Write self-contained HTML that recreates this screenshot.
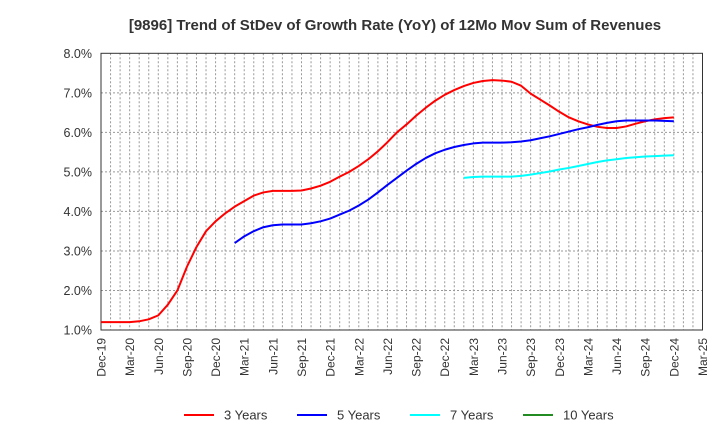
<!DOCTYPE html>
<html><head><meta charset="utf-8"><style>
body{margin:0;background:#fff;}
svg{display:block;font-family:"Liberation Sans",sans-serif;}
</style></head><body>
<svg id="chart" width="720" height="440" viewBox="0 0 720 440" xmlns="http://www.w3.org/2000/svg">
<rect width="720" height="440" fill="#fff"/>
<text x="395" y="30" text-anchor="middle" font-size="15" font-weight="bold" fill="#333">[9896]  Trend of StDev of Growth Rate (YoY) of 12Mo Mov Sum of Revenues</text>
<g id="grid"></g>
<g id="yaxis"></g>
<g id="xaxis"></g>
<rect x="101" y="53.3" width="601.5" height="276.7" fill="none" stroke="#333" stroke-width="1"/>
<g id="series"></g>
<g id="legend"></g>
</svg>
<script>
const xLabels=["Dec-19","Mar-20","Jun-20","Sep-20","Dec-20","Mar-21","Jun-21","Sep-21","Dec-21","Mar-22","Jun-22","Sep-22","Dec-22","Mar-23","Jun-23","Sep-23","Dec-23","Mar-24","Jun-24","Sep-24","Dec-24","Mar-25"];
const yTicks=[1,2,3,4,5,6,7,8];
const seriesNames=["3 Years","5 Years","7 Years","10 Years"];
const seriesColors=["#ff0000","#0000ff","#00ffff","#228b22"];
const start3=0;
const values3=[1.2,1.2,1.2,1.2,1.22,1.27,1.37,1.64,2.0,2.6,3.1,3.5,3.75,3.95,4.12,4.26,4.4,4.48,4.52,4.52,4.52,4.53,4.58,4.65,4.75,4.88,5.0,5.15,5.32,5.52,5.75,6.0,6.2,6.42,6.62,6.8,6.95,7.07,7.17,7.25,7.3,7.32,7.31,7.28,7.18,6.98,6.83,6.68,6.52,6.38,6.28,6.2,6.14,6.11,6.11,6.15,6.22,6.28,6.33,6.36,6.38];
const start5=14;
const values5=[3.2,3.37,3.5,3.6,3.65,3.67,3.67,3.67,3.7,3.75,3.82,3.92,4.02,4.15,4.3,4.48,4.67,4.85,5.03,5.2,5.35,5.47,5.56,5.63,5.68,5.72,5.74,5.74,5.74,5.75,5.77,5.8,5.85,5.9,5.96,6.02,6.08,6.13,6.19,6.24,6.28,6.3,6.3,6.3,6.3,6.29,6.28];
const start7=38;
const values7=[4.85,4.87,4.88,4.88,4.88,4.88,4.9,4.93,4.97,5.01,5.06,5.1,5.15,5.2,5.25,5.29,5.32,5.35,5.37,5.39,5.4,5.41,5.42];
const values10=[];
const NS="http://www.w3.org/2000/svg";
const X0=101,X1=702.5,Y0=330,Y1=53.3,NM=63;
const xs=m=>X0+(X1-X0)*m/NM;
const ys=v=>Y0-(v-1)/7*(Y0-Y1);
function mk(tag,attrs,parent){const e=document.createElementNS(NS,tag);for(const k in attrs)e.setAttribute(k,attrs[k]);parent.appendChild(e);return e;}
const grid=document.getElementById('grid'),ya=document.getElementById('yaxis'),xa=document.getElementById('xaxis');
for(let m=1;m<NM;m++){const l=mk('line',{x1:xs(m),x2:xs(m),y1:Y1,y2:Y0,stroke:'#999','stroke-width':1,'stroke-dasharray':'2,2'},grid);

}
yTicks.forEach(v=>{
 if(v>1&&v<8){const l=mk('line',{x1:X0,x2:X1,y1:ys(v),y2:ys(v),stroke:'#999','stroke-width':1,'stroke-dasharray':'2,2'},grid);
 
 }
 const t=mk('text',{x:92,y:ys(v)+4.5,'text-anchor':'end','font-size':12.5,fill:'#333'},ya);t.textContent=v.toFixed(1)+'%';
 
 
});
xLabels.forEach((s,i)=>{const x=xs(i*3);
 const t=mk('text',{transform:`translate(${x+4.5},338) rotate(-90)`,'text-anchor':'end','font-size':12,fill:'#333'},xa);t.textContent=s;
 
 
});
const ser=document.getElementById('series');
function draw(vals,start,color,name){if(!vals.length)return;
 const d=vals.map((v,i)=>(i?'L':'M')+xs(start+i).toFixed(2)+','+ys(v).toFixed(2)).join('');
 const p=mk('path',{d:d,fill:'none',stroke:color,'stroke-width':2,'stroke-linejoin':'round'},ser);
 
 }
draw(values3,start3,seriesColors[0],'line-3-years');
draw(values5,start5,seriesColors[1],'line-5-years');
draw(values7,start7,seriesColors[2],'line-7-years');
draw(values10,0,seriesColors[3],'line-10-years');
const lg=document.getElementById('legend');
const lx=[184,297,410,523];
seriesNames.forEach((n,i)=>{
 const g=mk('g',{},lg);
 
 
 mk('line',{x1:lx[i],x2:lx[i]+30,y1:415,y2:415,stroke:seriesColors[i],'stroke-width':2},g);
 const t=mk('text',{x:lx[i]+40,y:419.5,'font-size':13,fill:'#333'},g);t.textContent=n;
});
</script>
</body></html>
